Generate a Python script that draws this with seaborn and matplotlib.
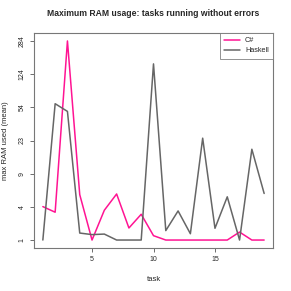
import numpy as np
import matplotlib
matplotlib.use("Agg")
import matplotlib.pyplot as plt
import seaborn as sns
from pandas import DataFrame

sns.set_theme(style="ticks")
plt.rcParams['font.family'] = ['Liberation Sans', 'DejaVu Sans']

# Data (max RAM used, mean)
tasks = list(range(1, 20))
csharp = [3.6, 3.0, 284, 5.2, 1, 3.2, 5.3, 1.7, 2.8, 1.23,
          1, 1, 1, 1, 1, 1, 1.44, 1, 1]
haskell = [1, 58.7, 48.3, 1.38, 1.29, 1.32, 1, 1, 1, 160,
           1.53, 3.13, 1.34, 24.3, 1.68, 4.87, 1, 18.2, 5.38]
languages = ["C#", "Haskell"]
colors = ["#FF1493", "#666666"]

df = DataFrame({"task": tasks * 2,
                "ram": csharp + haskell,
                "lang": ["C#"] * len(tasks) + ["Haskell"] * len(tasks)})

fig = plt.figure(figsize=(2.91, 2.91), dpi=100)
ax = fig.add_axes([34 / 291, 1 - 248 / 291, 239 / 291, 215 / 291])

fwd = lambda v: np.log(np.asarray(v) + 1)
inv = lambda z: np.exp(z) - 1
ax.set_yscale('function', functions=(fwd, inv))

sns.lineplot(data=df, x="task", y="ram", hue="lang", hue_order=languages,
             palette=colors, linewidth=1.1, ax=ax, legend=False)

# axis like R: 7 evenly spaced ticks in log(x+1) space
zmin, zmax = np.log(min(df.ram) + 1), np.log(max(df.ram) + 1)
zt = np.linspace(zmin, zmax, 7)
yt = inv(zt)
ax.set_yticks(yt)
ax.set_yticklabels([str(int(round(v))) for v in yt], rotation=90, va='center')
pad = 0.04 * (zmax - zmin)
ax.set_ylim(inv(zmin - pad), inv(zmax + pad))
ax.minorticks_off()

ax.set_xticks([5, 10, 15])
ax.set_xlim(1 - 0.04 * 18, 19 + 0.04 * 18)

ax.tick_params(labelsize=5, length=3, width=0.6, color="#555555", pad=3)
for s in ax.spines.values():
    s.set_linewidth(0.8)
    s.set_color("#777777")

ax.set_xlabel("task", fontsize=5.5, labelpad=9)
ax.set_ylabel("max RAM used (mean)", fontsize=5.5, labelpad=7)
ax.set_title("Maximum RAM usage: tasks running without errors",
             fontsize=6.2, fontweight='bold', pad=12)

handles = [plt.Line2D([], [], color=c, lw=1.1) for c in colors]
leg = ax.legend(handles, languages, loc='upper right', fontsize=5.2,
                frameon=True, fancybox=False, borderaxespad=0,
                handlelength=2.2, handletextpad=0.7,
                borderpad=0.6, labelspacing=0.4)
leg.get_frame().set_edgecolor("#777777")
leg.get_frame().set_linewidth(0.7)

fig.savefig("out.png", dpi=100)
